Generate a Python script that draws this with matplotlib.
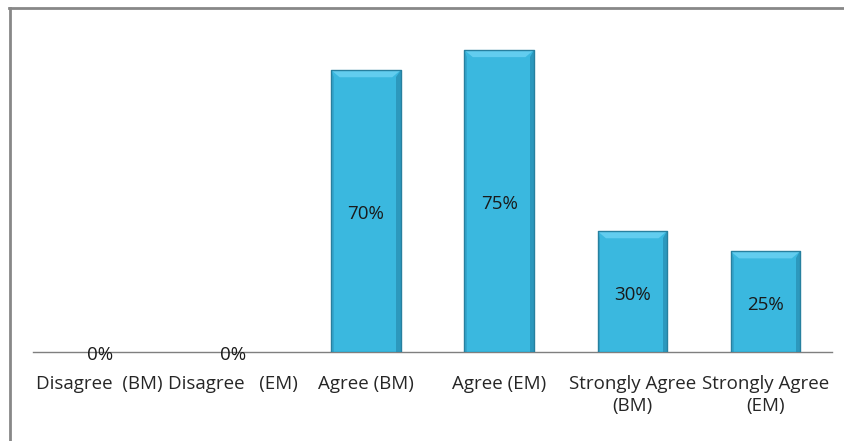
import numpy as np
import matplotlib.pyplot as plt
from matplotlib.patches import Polygon
from matplotlib.lines import Line2D

categories = ['Disagree  (BM)', 'Disagree   (EM)', 'Agree (BM)', 'Agree (EM)',
              'Strongly Agree\n(BM)', 'Strongly Agree\n(EM)']
values = [0, 0, 70, 75, 30, 25]
labels = ['0%', '0%', '70%', '75%', '30%', '25%']

plt.rcParams['font.family'] = ['Open Sans', 'DejaVu Sans']

fig = plt.figure(figsize=(8.44, 4.41), dpi=100)
ax = fig.add_axes([33 / 844, 89 / 441, 799 / 844, 322 / 441])

x = np.arange(len(categories))
bars = ax.bar(x, values, width=0.52, color='#3ab8df', edgecolor='none', zorder=2)

ax.set_xlim(-0.5, 5.5)
ax.set_ylim(0, 80)

# bevel / shading on the bars
px_per_unit = 322 / 80
for b in bars:
    h = b.get_height()
    if h <= 0:
        continue
    x0, w = b.get_x(), b.get_width()
    bev_y = 7 / px_per_unit
    bev_x = w * 0.12
    top = Polygon([(x0, h), (x0 + w, h), (x0 + w - bev_x, h - bev_y), (x0 + bev_x, h - bev_y)],
                  closed=True, facecolor='#62cdef', edgecolor='none', zorder=3)
    ax.add_patch(top)
    right = Polygon([(x0 + w, h), (x0 + w, 0), (x0 + w - w * 0.06, 0), (x0 + w - w * 0.06, h - bev_y)],
                    closed=True, facecolor='#2c98bd', edgecolor='none', zorder=3)
    ax.add_patch(right)
    left = Polygon([(x0, h), (x0, 0), (x0 + w * 0.04, 0), (x0 + w * 0.04, h - bev_y)],
                   closed=True, facecolor='#33a6cd', edgecolor='none', zorder=3)
    ax.add_patch(left)
    ax.plot([x0, x0 + w, x0 + w, x0, x0], [0, 0, h, h, 0], color='#27809f', lw=1.0, zorder=4)

for xi, v, lab in zip(x, values, labels):
    ax.annotate(lab, (xi, v / 2), xytext=(0, -2.2), textcoords='offset points',
                ha='center', va='center', fontsize=13.5, color='#1a1a1a', zorder=5)

ax.set_xticks(x)
ax.set_xticklabels(categories, fontsize=13.5, color='#262626', linespacing=1.3)
ax.tick_params(axis='x', length=0, pad=16.5)
ax.set_yticks([])
for s in ['top', 'right', 'left']:
    ax.spines[s].set_visible(False)
ax.spines['bottom'].set_color('#7f7f7f')
ax.spines['bottom'].set_linewidth(1.0)
ax.spines['bottom'].set_zorder(1)

# chart frame
fig.add_artist(Line2D([10 / 844, 10 / 844], [0, 1 - 7.5 / 441], transform=fig.transFigure,
                      color='#888888', lw=2))
fig.add_artist(Line2D([9 / 844, 1], [1 - 7.5 / 441, 1 - 7.5 / 441], transform=fig.transFigure,
                      color='#888888', lw=2))

fig.savefig('out.png', dpi=100)
